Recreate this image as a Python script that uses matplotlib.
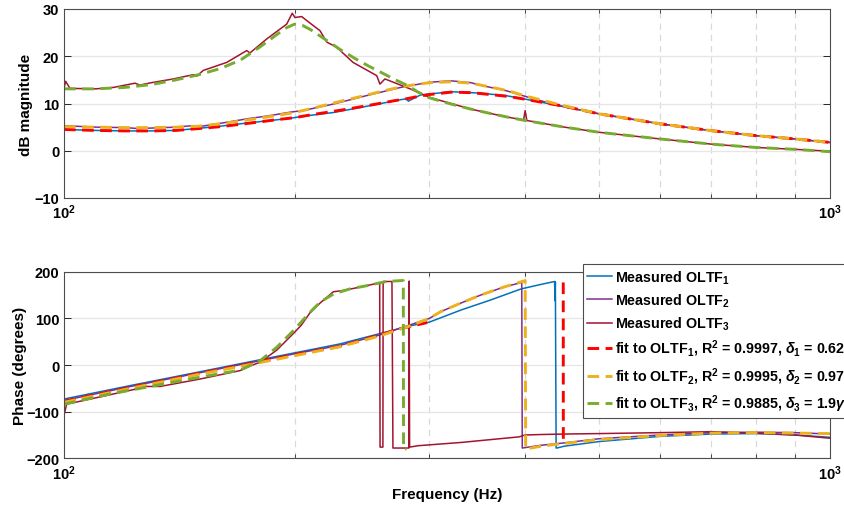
import matplotlib
matplotlib.use('Agg')
import matplotlib.pyplot as plt
import numpy as np
from matplotlib.lines import Line2D
from matplotlib.ticker import FixedLocator, NullFormatter, FixedFormatter

plt.rcParams['font.family'] = ['Liberation Sans', 'DejaVu Sans']
plt.rcParams['font.weight'] = 'bold'
plt.rcParams['mathtext.fontset'] = 'custom'
plt.rcParams['mathtext.rm'] = 'Liberation Sans:bold'
plt.rcParams['mathtext.bf'] = 'Liberation Sans:bold'
plt.rcParams['mathtext.it'] = 'Liberation Sans:italic:bold'

# colours of the three measured loops and their fits
C_BLUE = '#0072BD'
C_PURPLE = '#7E2F8E'
C_DARKRED = '#A2142F'
C_RED = '#FF0000'
C_ORANGE = '#EDB120'
C_GREEN = '#77AC30'

# ---- magnitude (dB) ----
mag1_f = [100, 100.6, 105, 110, 120, 130, 140, 150, 160, 174, 186, 198, 205, 225, 250, 275, 280, 281.5, 292, 320, 349, 378, 410, 444, 500, 600, 700, 800, 900, 1000]
mag1_db = [5.7, 4.5, 4.4, 4.3, 4.2, 4.2, 4.3, 4.75, 5.2, 5.9, 6.4, 6.9, 7.3, 8.1, 9.5, 10.8, 11.0, 10.5, 11.8, 12.5, 12.2, 11.65, 10.6, 9.5, 7.8, 5.7, 4.25, 3.2, 2.5, 1.76]

mag2_f = [100, 110, 120, 125, 130, 140, 147, 150, 160, 174, 185, 198, 205, 225, 248, 275, 300, 320, 340, 349, 378, 410, 444, 500, 600, 700, 800, 900, 1000]
mag2_db = [5.3, 5.0, 4.9, 4.7, 4.8, 5.0, 5.3, 5.1, 5.8, 6.8, 7.4, 8.2, 8.5, 9.9, 11.65, 13.4, 14.5, 14.8, 14.4, 13.9, 12.7, 11.0, 9.5, 7.8, 5.7, 4.25, 3.2, 2.5, 1.76]

mag3_f = [100, 100.5, 101.8, 110, 116, 123.8, 125.6, 130, 138.9, 147.5, 149.0, 152, 163.1, 173.2, 174.9, 183.9, 195.3, 198.6, 200.2, 204.3, 208.4, 215.9, 220.3, 227, 238.4, 256, 258.5, 262.4, 283, 300, 320, 340, 360, 380, 398, 400, 402, 450, 500, 600, 700, 800, 900, 1000]
mag3_db = [13.2, 14.7, 13.2, 13.1, 13.4, 14.3, 13.9, 14.4, 15.2, 16.1, 15.8, 17.0, 18.7, 21.2, 20.7, 23.65, 26.8, 29.1, 28.2, 28.4, 27.3, 25.4, 23.0, 21.9, 18.7, 15.9, 14.1, 15.2, 13.1, 11.3, 10.0, 8.8, 7.9, 7.1, 6.5, 8.5, 6.4, 5.0, 3.9, 2.5, 1.4, 0.7, 0.3, -0.1]

fit_mag_f = [100, 110, 120, 130, 140, 150, 160, 170, 180, 190, 195, 200, 205, 210, 220, 230, 240, 250, 260, 270, 280, 290, 300, 320, 340, 360, 380, 400, 450, 500, 600, 700, 800, 900, 1000]
fit1_db = [4.5, 4.3, 4.2, 4.2, 4.3, 4.7, 5.1, 5.6, 6.1, 6.6, 6.8, 7.0, 7.3, 7.6, 8.1, 8.6, 9.1, 9.6, 10.1, 10.6, 11.0, 11.5, 11.9, 12.4, 12.3, 11.9, 11.5, 10.9, 9.4, 7.8, 5.7, 4.25, 3.2, 2.5, 1.76]
fit2_db = [5.1, 5.0, 4.9, 4.9, 5.0, 5.2, 5.7, 6.3, 6.9, 7.5, 7.8, 8.1, 8.5, 8.9, 9.7, 10.5, 11.2, 11.9, 12.6, 13.2, 13.7, 14.1, 14.4, 14.6, 14.3, 13.5, 12.7, 11.6, 9.5, 7.8, 5.7, 4.25, 3.2, 2.5, 1.76]
fit3_db = [13.1, 13.1, 13.4, 14.0, 15.0, 16.1, 17.4, 19.2, 21.9, 24.7, 26.0, 26.8, 26.5, 25.6, 23.4, 21.3, 19.5, 17.9, 16.5, 15.1, 13.9, 12.4, 11.2, 9.9, 8.8, 7.9, 7.1, 6.4, 5.0, 3.9, 2.5, 1.4, 0.7, 0.3, -0.2]

# ---- phase (degrees) ----
ph1_f = [100, 123, 150, 175, 200, 229, 258, 283, 300, 330, 360, 395, 420, 437, 437.5, 438, 439, 440, 450, 500, 600, 700, 800, 900, 1000]
ph1_deg = [-73, -43, -15, 7, 26, 45, 67, 84, 92, 118, 139, 163, 173, 179, 138, 178, -178, -178, -174, -164, -153, -148, -147, -150, -155]

ph2_f = [100, 123, 150, 175, 200, 229, 258, 283, 300, 310, 330, 350, 375, 395.9, 396.5, 420, 450, 500, 600, 700, 800, 900, 1000]
ph2_deg = [-76, -45, -17, 5, 24, 42, 64, 86, 100, 114, 133, 150, 167, 177, -178, -172, -167, -158, -150, -145, -144, -145, -148]

ph3_f = [100, 100.8, 123.8, 124.5, 133.5, 150.6, 169.8, 175, 180.3, 189.6, 199.4, 204, 209.5, 216, 224.7, 232, 248.5, 256, 258.3, 258.6, 260.8, 261, 268, 268.8, 282, 282.2, 282.6, 290, 330, 393, 400, 420, 450, 500, 600, 700, 800, 900, 1000]
ph3_deg = [-108, -84, -52, -46, -46, -30, -12, -2, 6, 32, 68, 85, 112, 133, 157, 160, 170, 175, 177, -176, -176, 179, 179, -178, -178, 180, -176, -173, -166, -154, -150, -149, -148, -147, -145, -143, -146, -150, -157]

fit1_ph_f = [100, 123, 150, 175, 200, 229, 258, 275, 298, np.nan, 448.5, 448.6]
fit1_ph_deg = [-78, -47, -18, 3, 22, 40, 64, 78, 91, np.nan, 177, -170]

fit2_ph_f = [100, 123, 150, 175, 200, 229, 258, 283, 300, 310, 330, 350, 375, 400, 400.6, 420, 450, 500, 600, 700, 800, 900, 1000]
fit2_ph_deg = [-80, -49, -20, 1, 20, 39, 62, 84, 100, 114, 133, 150, 167, 181, -180, -174, -168, -160, -151, -146, -145, -146, -147]

fit3_ph_f = [100, 115, 133.5, 150.6, 169.8, 180.3, 189.6, 199.4, 209.5, 216, 224.7, 236, 248.5, 263.6, 276, 277.3, 277.5, 280]
fit3_ph_deg = [-84, -62, -42, -26, -11, 9, 38, 74, 113, 135, 152, 163, 170, 179, 181, 181, -180, -180]

legend_labels = [
    'Measured OLTF$_1$',
    'Measured OLTF$_2$',
    'Measured OLTF$_3$',
    r'fit to OLTF$_1$, R$^2$ = 0.9997, $\delta_1$ = 0.62$\gamma$',
    r'fit to OLTF$_2$, R$^2$ = 0.9995, $\delta_2$ = 0.97$\gamma$',
    r'fit to OLTF$_3$, R$^2$ = 0.9885, $\delta_3$ = 1.9$\gamma$',
]

W, H = 845, 510
fig = plt.figure(figsize=(W / 100, H / 100), dpi=100)
ax1 = fig.add_axes([64 / W, 1 - 199 / H, 766 / W, 189 / H])
ax2 = fig.add_axes([64 / W, 1 - 459.3 / H, 766 / W, 186.6 / H])

meas_lw = 1.1
fit_lw = 2.1
fit_dash = (4.0, 2.2)


def style_axes(ax, yticks, ylim):
    ax.set_xscale('log')
    ax.set_xlim(100, 1000)
    ax.set_ylim(*ylim)
    ax.xaxis.set_major_locator(FixedLocator([100, 1000]))
    ax.xaxis.set_major_formatter(FixedFormatter([r'10$^2$', r'10$^3$']))
    ax.xaxis.set_minor_locator(FixedLocator([200, 300, 400, 500, 600, 700, 800, 900]))
    ax.xaxis.set_minor_formatter(NullFormatter())
    ax.set_yticks(yticks)
    ax.tick_params(which='both', direction='in', top=True, right=True,
                   labelsize=10.5, colors='#262626', labelcolor='black')
    ax.tick_params(which='major', length=5, width=0.7)
    ax.tick_params(which='minor', length=3, width=0.6)
    ax.grid(True, which='major', axis='y', color='#e6e6e6', lw=0.9)
    ax.grid(True, which='minor', axis='x', color='#d9d9d9', lw=0.9, ls=(0, (5, 4)))
    ax.set_axisbelow(True)
    for sp in ax.spines.values():
        sp.set_color('#4d4d4d')
        sp.set_linewidth(0.8)
    for lab in ax.get_xticklabels() + ax.get_yticklabels():
        lab.set_fontweight('bold')


# magnitude
ax1.plot(mag1_f, mag1_db, color=C_BLUE, lw=meas_lw)
ax1.plot(mag2_f, mag2_db, color=C_PURPLE, lw=meas_lw)
ax1.plot(mag3_f, mag3_db, color=C_DARKRED, lw=meas_lw)
ax1.plot(fit_mag_f, fit1_db, color=C_RED, lw=fit_lw, ls=(0, fit_dash))
ax1.plot(fit_mag_f, fit2_db, color=C_ORANGE, lw=fit_lw, ls=(0, fit_dash))
ax1.plot(fit_mag_f, fit3_db, color=C_GREEN, lw=fit_lw, ls=(0, fit_dash))
style_axes(ax1, [-10, 0, 10, 20, 30], (-10, 30))
ax1.set_ylabel('dB magnitude', fontsize=11, fontweight='bold', labelpad=1)

# phase
ax2.plot(ph1_f, ph1_deg, color=C_BLUE, lw=meas_lw)
ax2.plot(ph2_f, ph2_deg, color=C_PURPLE, lw=meas_lw)
ax2.plot(ph3_f, ph3_deg, color=C_DARKRED, lw=meas_lw)
ax2.plot(fit1_ph_f, fit1_ph_deg, color=C_RED, lw=fit_lw, ls=(0, fit_dash))
ax2.plot(fit2_ph_f, fit2_ph_deg, color=C_ORANGE, lw=fit_lw, ls=(0, fit_dash))
ax2.plot(fit3_ph_f, fit3_ph_deg, color=C_GREEN, lw=fit_lw, ls=(0, fit_dash))
style_axes(ax2, [-200, -100, 0, 100, 200], (-200, 200))
ax2.set_ylabel('Phase (degrees)', fontsize=11, fontweight='bold', labelpad=-1)
ax2.set_xlabel('Frequency (Hz)', fontsize=11, fontweight='bold', labelpad=4)

handles = [
    Line2D([], [], color=C_BLUE, lw=meas_lw),
    Line2D([], [], color=C_PURPLE, lw=meas_lw),
    Line2D([], [], color=C_DARKRED, lw=meas_lw),
    Line2D([], [], color=C_RED, lw=fit_lw, ls=(0, fit_dash)),
    Line2D([], [], color=C_ORANGE, lw=fit_lw, ls=(0, fit_dash)),
    Line2D([], [], color=C_GREEN, lw=fit_lw, ls=(0, fit_dash)),
]
leg = ax2.legend(handles, legend_labels, loc='upper left',
                 bbox_to_anchor=(583 / W, 1 - 265 / H), bbox_transform=fig.transFigure,
                 fancybox=False, framealpha=1, edgecolor='#4d4d4d',
                 fontsize=10.3, handlelength=1.75, handletextpad=0.2,
                 borderpad=0.3, borderaxespad=0, labelspacing=0.4)
leg.get_frame().set_linewidth(0.8)
for t in leg.get_texts():
    t.set_fontweight('bold')

fig.savefig('out.png', dpi=100)
